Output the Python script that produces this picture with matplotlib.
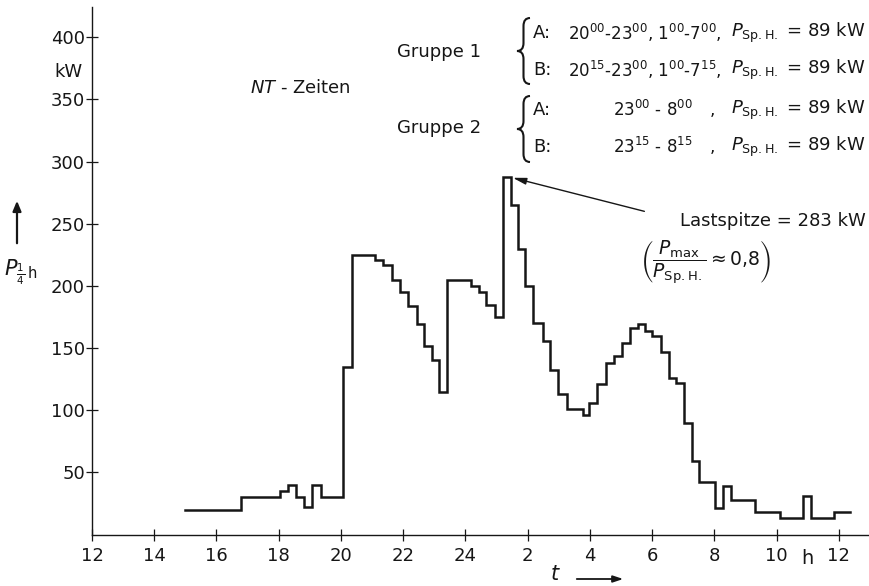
import numpy as np
import matplotlib
matplotlib.use("Agg")
import matplotlib.pyplot as plt
from matplotlib.path import Path
from matplotlib.patches import PathPatch

# quarter-hour load profile (start time of each step in h, 24+x = next day)
t_start = [15.0, 16.8, 18.05, 18.3, 18.57, 18.82, 19.08, 19.35,
           20.05, 20.37, 21.1, 21.36, 21.63, 21.9, 22.16, 22.43, 22.66, 22.91, 23.16, 23.4,
           24.19, 24.43, 24.67, 24.94, 25.21, 25.45, 25.7, 25.91, 26.18, 26.48, 26.71, 26.98, 27.25, 27.77,
           27.98, 28.24, 28.51, 28.78, 29.02, 29.28, 29.53, 29.77, 30.01, 30.3, 30.55, 30.78, 31.03, 31.27, 31.51,
           32.02, 32.28, 32.52, 33.3, 34.1, 34.85, 35.12, 35.84]
t_end = 36.35
p_kw = [20, 30, 35, 40, 30, 22, 40, 30,
        135, 225, 221, 217, 205, 195, 184, 169, 152, 140, 115, 205,
        200, 195, 185, 175, 288, 265, 230, 200, 170, 156, 132, 113, 101, 96,
        106, 121, 138, 144, 154, 166, 169, 164, 160, 147, 126, 122, 90, 59, 42,
        21, 39, 28, 18, 13, 31, 13, 18]

x_ticks = list(range(12, 37, 2))
x_labels = ['12', '14', '16', '18', '20', '22', '24', '2', '4', '6', '8', '10', '12']
y_ticks = list(range(50, 401, 50))

W, H = 870, 586
ink = '#161616'
plt.rcParams['font.family'] = ['DejaVu Sans']
plt.rcParams['mathtext.fontset'] = 'dejavusans'


def fx(x):
    return x / W


def fy(y):
    return 1 - y / H


fig = plt.figure(figsize=(W / 100, H / 100), dpi=100)
fig.patch.set_facecolor('white')
ax = fig.add_axes([fx(92), fy(534.5), 778 / W, 527.5 / H])

tt = np.append(t_start, t_end)
pp = np.append(p_kw, p_kw[-1])
ax.step(tt, pp, where='post', color=ink, lw=1.8, solid_joinstyle='miter')

ax.set_xlim(12, 37)
ax.set_ylim(0, 424.4)
for s in ['top', 'right']:
    ax.spines[s].set_visible(False)
for s in ['left', 'bottom']:
    ax.spines[s].set_linewidth(1.0)
    ax.spines[s].set_color(ink)
ax.set_xticks(x_ticks)
ax.set_xticklabels(x_labels)
ax.set_yticks(y_ticks)
ax.tick_params(axis='both', direction='inout', length=8, width=0.9, colors=ink, labelsize=13)
ax.tick_params(axis='x', pad=5)
ax.tick_params(axis='y', pad=1)
ax.text(35.0, -19, 'h', ha='center', va='center', fontsize=14, color=ink, clip_on=False)
fig.text(fx(83), fy(72), 'kW', ha='right', va='center', fontsize=13, color=ink)

# y label with arrow
fig.text(fx(4), fy(272), r'$P_{\frac{1}{4}\,\mathrm{h}}$', fontsize=15, color=ink, va='center', ha='left')
ax.annotate('', xy=(fx(17), fy(198)), xytext=(fx(17), fy(246)), xycoords='figure fraction',
            textcoords='figure fraction',
            arrowprops=dict(arrowstyle='-|>,head_length=0.6,head_width=0.25', color=ink, lw=1.6))

# t label with arrow
fig.text(fx(555), fy(574), r'$t$', fontsize=15, color=ink, ha='center', va='center')
ax.annotate('', xy=(fx(626), fy(579)), xytext=(fx(574), fy(579)), xycoords='figure fraction',
            textcoords='figure fraction',
            arrowprops=dict(arrowstyle='-|>,head_length=0.6,head_width=0.2', color=ink, lw=1.3))

fig.text(fx(250), fy(88), r'$NT$ - Zeiten', fontsize=13, color=ink, va='center', ha='left')
fig.text(fx(397), fy(52), 'Gruppe 1', fontsize=13, color=ink, va='center', ha='left')
fig.text(fx(397), fy(128), 'Gruppe 2', fontsize=13, color=ink, va='center', ha='left')


def brace(x0, y0, y1, w=13):
    ym = (y0 + y1) / 2
    xm = x0 + w / 2
    pts = [(x0 + w, y0), (xm, y0), (xm, y0 + 8), (xm, ym - 8), (xm, ym), (x0, ym),
           (xm, ym), (xm, ym + 8), (xm, y1 - 8), (xm, y1), (x0 + w, y1)]
    codes = [Path.MOVETO, Path.CURVE3, Path.CURVE3, Path.LINETO, Path.CURVE3, Path.CURVE3,
             Path.CURVE3, Path.CURVE3, Path.LINETO, Path.CURVE3, Path.CURVE3]
    path = Path([(fx(a), fy(b)) for a, b in pts], codes)
    fig.add_artist(PathPatch(path, transform=fig.transFigure, fill=False, color=ink, lw=1.5))


brace(517, 18, 84)
brace(517, 96, 162)

rows = [
    (33, 'A:', r'$20^{00}$-$23^{00}$, $1^{00}$-$7^{00}$,', 568),
    (70, 'B:', r'$20^{15}$-$23^{00}$, $1^{00}$-$7^{15}$,', 568),
    (110, 'A:', r'$23^{00}$ - $8^{00}$', 613),
    (147, 'B:', r'$23^{15}$ - $8^{15}$', 613),
]
for i, (y, lab, times, xt) in enumerate(rows):
    fig.text(fx(533), fy(y), lab, fontsize=13, color=ink, va='center', ha='left')
    fig.text(fx(xt), fy(y), times, fontsize=12, color=ink, va='center', ha='left')
    if i >= 2:
        fig.text(fx(710), fy(y), ',', fontsize=12.5, color=ink, va='center', ha='left')
    fig.text(fx(866), fy(y), r'$P_{\mathrm{Sp.H.}}$ = 89 kW', fontsize=13, color=ink,
             va='center', ha='right')

# peak annotation
ax.annotate('', xy=(25.52, 287), xytext=(29.75, 260), xycoords='data',
            arrowprops=dict(arrowstyle='-|>,head_length=0.8,head_width=0.2', color=ink, lw=1.0,
                            shrinkA=0, shrinkB=0))
fig.text(fx(866), fy(221), 'Lastspitze = 283 kW', fontsize=13, color=ink, va='center', ha='right')
fig.text(fx(640), fy(262), r'$\left(\dfrac{P_{\mathrm{max}}}{P_{\mathrm{Sp.H.}}}\approx 0{,}8\right)$',
         fontsize=13.5, color=ink, va='center', ha='left')

fig.savefig('out.png', dpi=100, facecolor='white')
